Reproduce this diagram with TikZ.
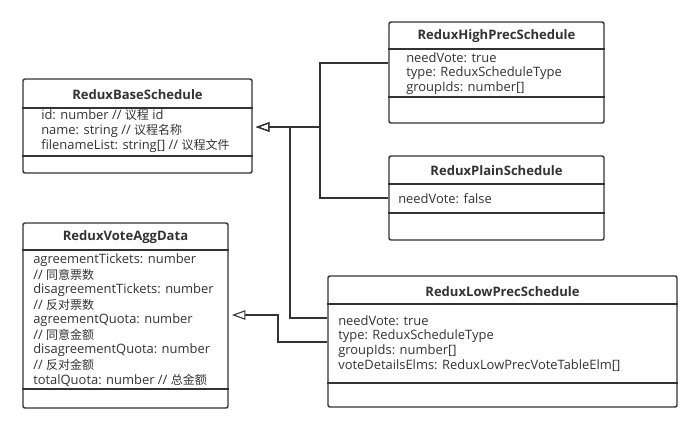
\documentclass[tikz,border=0pt]{standalone}
\usepackage{fontspec}
\setmainfont{Open Sans}
\newfontfamily\cjk{Noto Sans CJK SC}[Scale=0.93]
\usetikzlibrary{fit,arrows.meta}
\definecolor{ink}{HTML}{333333}
\tikzset{
  box/.style={draw=ink, line width=1.1pt, rounded corners=1.5pt, inner sep=0pt},
  sep/.style={draw=ink, line width=1.1pt},
  ttl/.style={font=\fontsize{9.8}{11}\selectfont\bfseries, text=ink, inner sep=0pt},
  att/.style={font=\fontsize{9.7}{11}\selectfont, text=ink, anchor=west, inner sep=0pt},
  inh/.style={draw=ink, line width=1.1pt, -{Triangle[open, length=10pt, width=7pt, line width=0.8pt]}},
}
\begin{document}
\begin{tikzpicture}[x=0.75pt, y=-0.75pt]
\useasboundingbox (0,0) rectangle (691,437);
\fill[white] (0,0) rectangle (691,437);

% ReduxBaseSchedule
\node[box, fit={(23,79) (252,173)}] (base) {};
\draw[sep] (base.west |- 0,108) -- (base.east |- 0,108);
\draw[sep] (base.west |- 0,156) -- (base.east |- 0,156);
\node[ttl] (baset) at (137.5,95) {ReduxBaseSchedule};
\node[att] (b1) at (41,115) {id: number // {\cjk 议程} id};
\node[att] (b2) at (41,131) {name: string // {\cjk 议程名称}};
\node[att] (b3) at (41,146) {filenameList: string[] // {\cjk 议程文件}};

% ReduxVoteAggData
\node[box, fit={(23,223) (228,408)}] (vote) {};
\draw[sep] (vote.west |- 0,250) -- (vote.east |- 0,250);
\draw[sep] (vote.west |- 0,389) -- (vote.east |- 0,389);
\node[ttl] (votet) at (125.5,237) {ReduxVoteAggData};
\node[att] (v1) at (33,260) {agreementTickets: number};
\node[att] (v2) at (33,275) {// {\cjk 同意票数}};
\node[att] (v3) at (33,290) {disagreementTickets: number};
\node[att] (v4) at (33,305) {// {\cjk 反对票数}};
\node[att] (v5) at (33,320) {agreementQuota: number};
\node[att] (v6) at (33,335) {// {\cjk 同意金额}};
\node[att] (v7) at (33,350) {disagreementQuota: number};
\node[att] (v8) at (33,365) {// {\cjk 反对金额}};
\node[att] (v9) at (33,380) {totalQuota: number // {\cjk 总金额}};

% ReduxHighPrecSchedule
\node[box, fit={(389,22) (604,123)}] (high) {};
\draw[sep] (high.west |- 0,49) -- (high.east |- 0,49);
\draw[sep] (high.west |- 0,97) -- (high.east |- 0,97);
\node[ttl] (hight) at (496.5,36) {ReduxHighPrecSchedule};
\node[att] (h1) at (406,58) {needVote: true};
\node[att] (h2) at (406,73) {type: ReduxScheduleType};
\node[att] (h3) at (406,88) {groupIds: number[]};

% ReduxPlainSchedule
\node[box, fit={(389,156) (604,240)}] (plain) {};
\draw[sep] (plain.west |- 0,184) -- (plain.east |- 0,184);
\draw[sep] (plain.west |- 0,213) -- (plain.east |- 0,213);
\node[ttl] (plaint) at (496.5,171) {ReduxPlainSchedule};
\node[att] (p1) at (398,199) {needVote: false};

% ReduxLowPrecSchedule
\node[box, fit={(328,276) (677,407)}] (low) {};
\draw[sep] (low.west |- 0,304) -- (low.east |- 0,304);
\draw[sep] (low.west |- 0,383) -- (low.east |- 0,383);
\node[ttl] (lowt) at (502.5,292) {ReduxLowPrecSchedule};
\node[att] (l1) at (338,321) {needVote: true};
\node[att] (l2) at (338,336) {type: ReduxScheduleType};
\node[att] (l3) at (338,351) {groupIds: number[]};
\node[att] (l4) at (338,366) {voteDetailsElms: ReduxLowPrecVoteTableElm[]};

% connectors
\coordinate (tipb) at (256,127);
\coordinate (j1) at (320,127);
\coordinate (j2) at (290,127);
\coordinate (tipv) at (232,315);
\coordinate (k1) at (278,315);
\draw[inh] (high.west |- 0,63) -| (j1) -- (tipb);
\draw[inh] (plain.west |- 0,198) -| (j1) -- (tipb);
\draw[inh] (low.west |- 0,318) -| (j2) -- (tipb);
\draw[inh] (low.west |- 0,342) -| (k1) -- (tipv);
\end{tikzpicture}
\end{document}
